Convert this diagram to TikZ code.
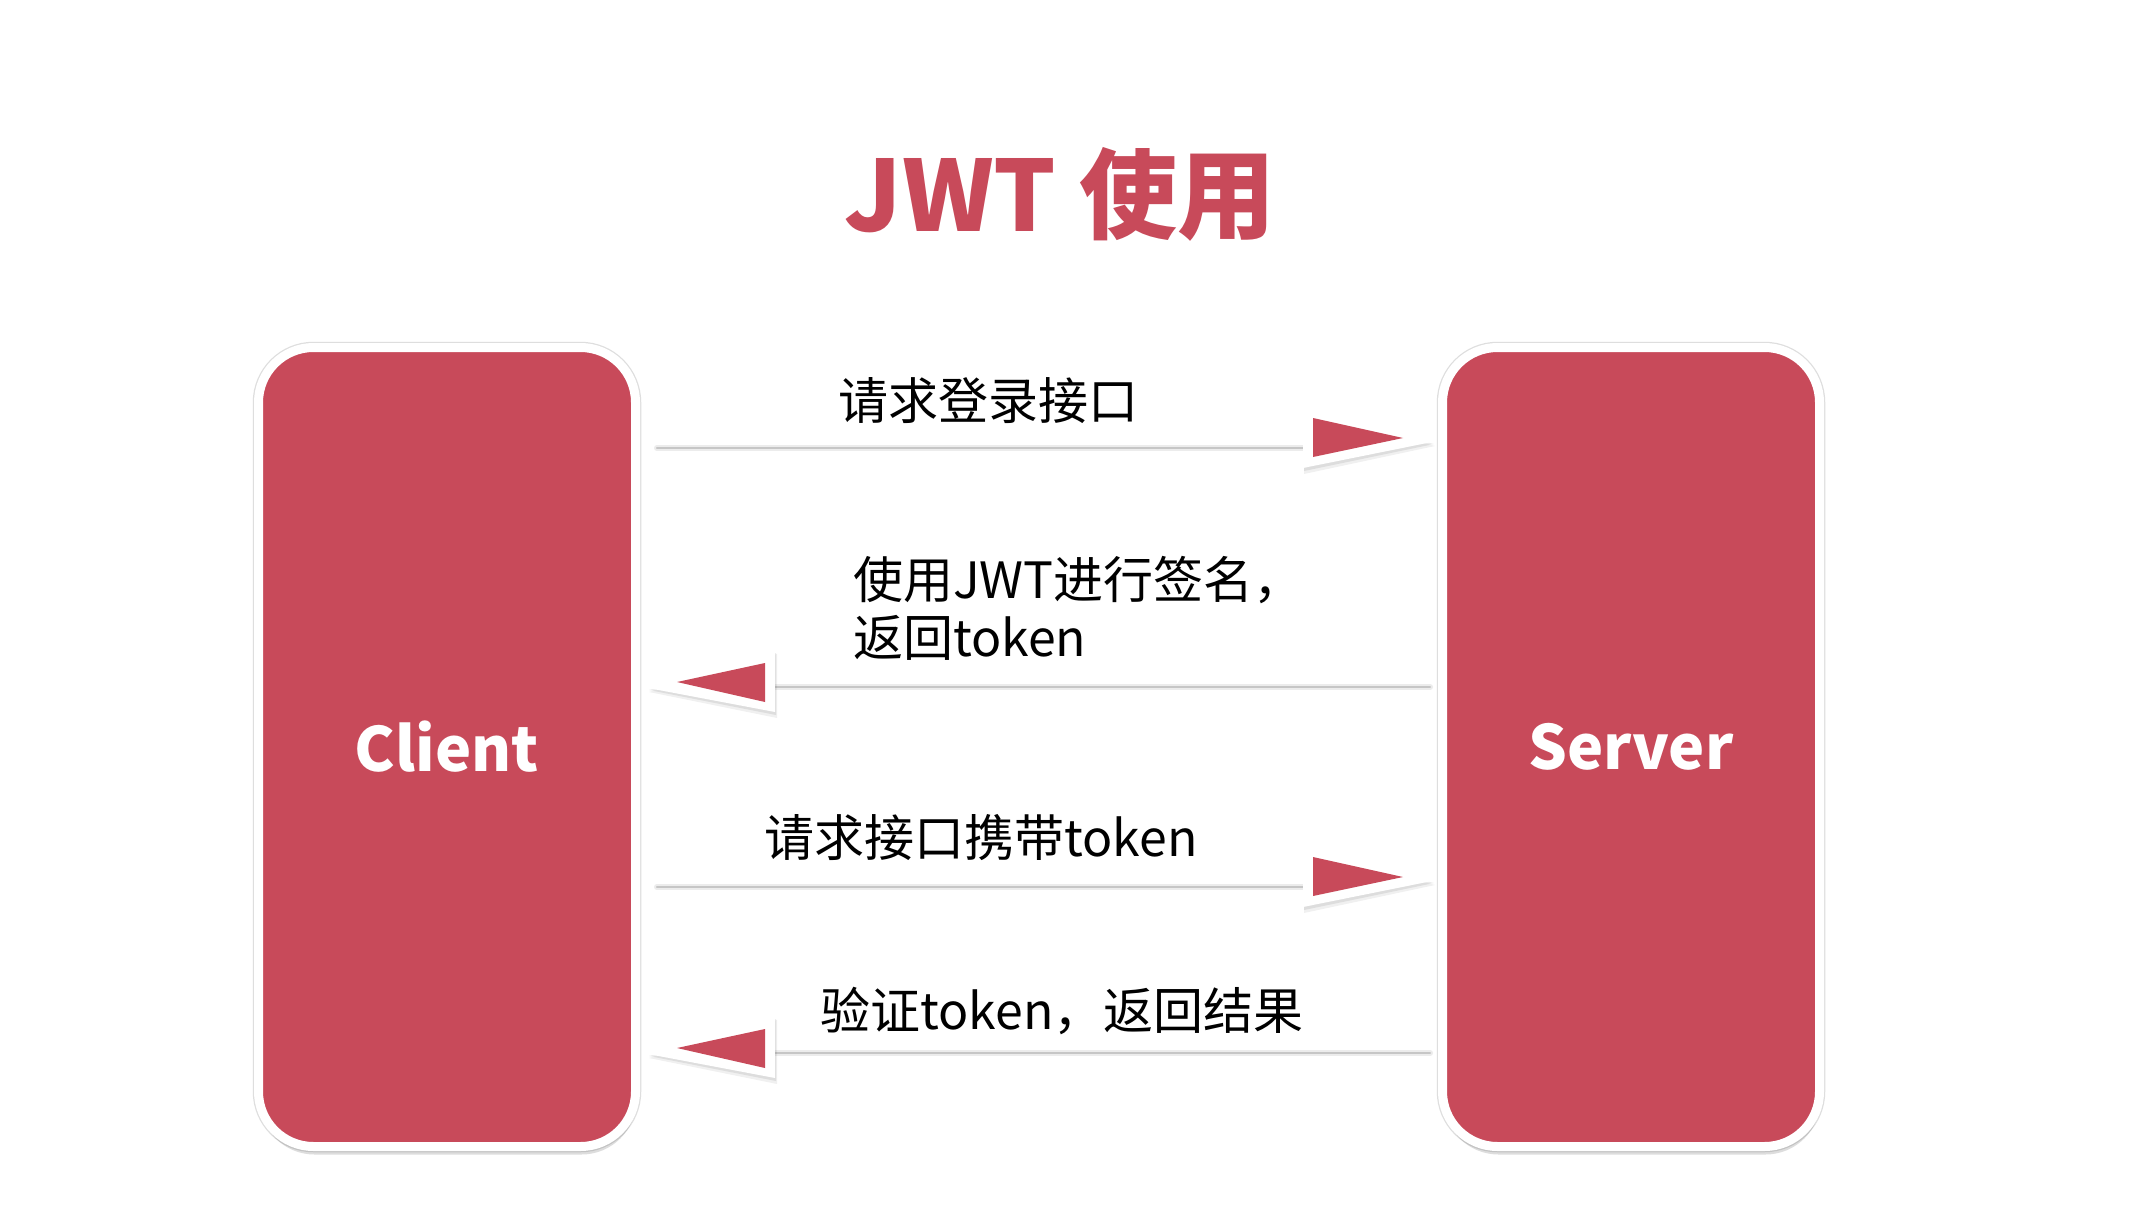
\documentclass[tikz,border=0pt]{standalone}
\usepackage{fontspec}
\setmainfont{Noto Sans CJK SC}
\usetikzlibrary{calc,shadows}
\definecolor{jwtred}{HTML}{C84A5A}
\tikzset{
  box/.style={rounded corners=55pt, fill=jwtred, draw=white, line width=9pt,
    minimum width=377pt, minimum height=799pt, inner sep=0pt,
    font=\fontsize{61}{72}\selectfont\bfseries, text=white,
    preaction={draw=black!13, line width=11.5pt},
    drop shadow={shadow xshift=1pt, shadow yshift=-8pt, opacity=0.22, fill=black!60}},
  lbl/.style={font=\fontsize{50}{58}\selectfont, text=black, inner sep=0pt},
  wline/.style={draw=gray!45, line width=2.5pt, line cap=round,
    preaction={draw=gray!15, line width=6pt, line cap=round}},
  titlestyle/.style={font=\fontsize{98}{112}\selectfont\bfseries, text=jwtred, inner sep=0pt},
}
\newcommand\headright[1]{%
  \fill[black, opacity=0.06] ($(#1)+(1,-36)$) -- ($(#1)+(132,-2)$) -- ($(#1)+(1,26)$) -- cycle;
  \fill[black, opacity=0.08] ($(#1)+(1,-36)$) -- ($(#1)+(131,-4)$) -- ($(#1)+(1,23)$) -- cycle;
  \fill[white] ($(#1)+(0,-38)$) -- ($(#1)+(129,-6)$) -- ($(#1)+(0,20)$) -- cycle;
  \fill[jwtred] ($(#1)+(10,-30)$) -- ($(#1)+(100,-10)$) -- ($(#1)+(10,9)$) -- cycle;
}
\newcommand\headleft[1]{%
  \fill[black, opacity=0.06] ($(#1)+(2,-33)$) -- ($(#1)+(-126,5)$) -- ($(#1)+(2,31)$) -- cycle;
  \fill[black, opacity=0.08] ($(#1)+(1,-34)$) -- ($(#1)+(-126,3)$) -- ($(#1)+(1,28)$) -- cycle;
  \fill[white] ($(#1)+(0,-36)$) -- ($(#1)+(-127,1)$) -- ($(#1)+(0,25)$) -- cycle;
  \fill[jwtred] ($(#1)+(-10,-24)$) -- ($(#1)+(-98,-5)$) -- ($(#1)+(-10,15)$) -- cycle;
}
\begin{document}
\begin{tikzpicture}[x=1pt,y=-1pt]
\useasboundingbox[fill=white] (0,0) rectangle (2140,1204);

\node[titlestyle, anchor=base] (title) at (1060,231) {JWT 使用};

\node[box] (client) at (447,747) {Client};
\node[box] (server) at (1631,747) {Server};

% head positions (base of head on the line)
\coordinate (h1) at (1303,448);
\coordinate (h2) at (775,687);
\coordinate (h3) at (1303,887);
\coordinate (h4) at (775,1053);

% connectors
\draw[wline] ($(client.east |- h1)+(17,0)$) -- (h1);
\draw[wline] ($(server.west |- h2)+(-8,0)$) -- (h2);
\draw[wline] ($(client.east |- h3)+(17,0)$) -- (h3);
\draw[wline] ($(server.west |- h4)+(-8,0)$) -- (h4);

\headright{h1}
\headleft{h2}
\headright{h3}
\headleft{h4}

% labels
\node[lbl, anchor=base] (l1) at (988,419) {请求登录接口};
\node[lbl, anchor=west, align=left] (l2) at (853,608) {使用JWT进行签名，\\返回token};
\node[lbl, anchor=base] (l3) at (981,856) {请求接口携带token};
\node[lbl, anchor=base] (l4) at (1062,1029) {验证token，返回结果};
\end{tikzpicture}
\end{document}
